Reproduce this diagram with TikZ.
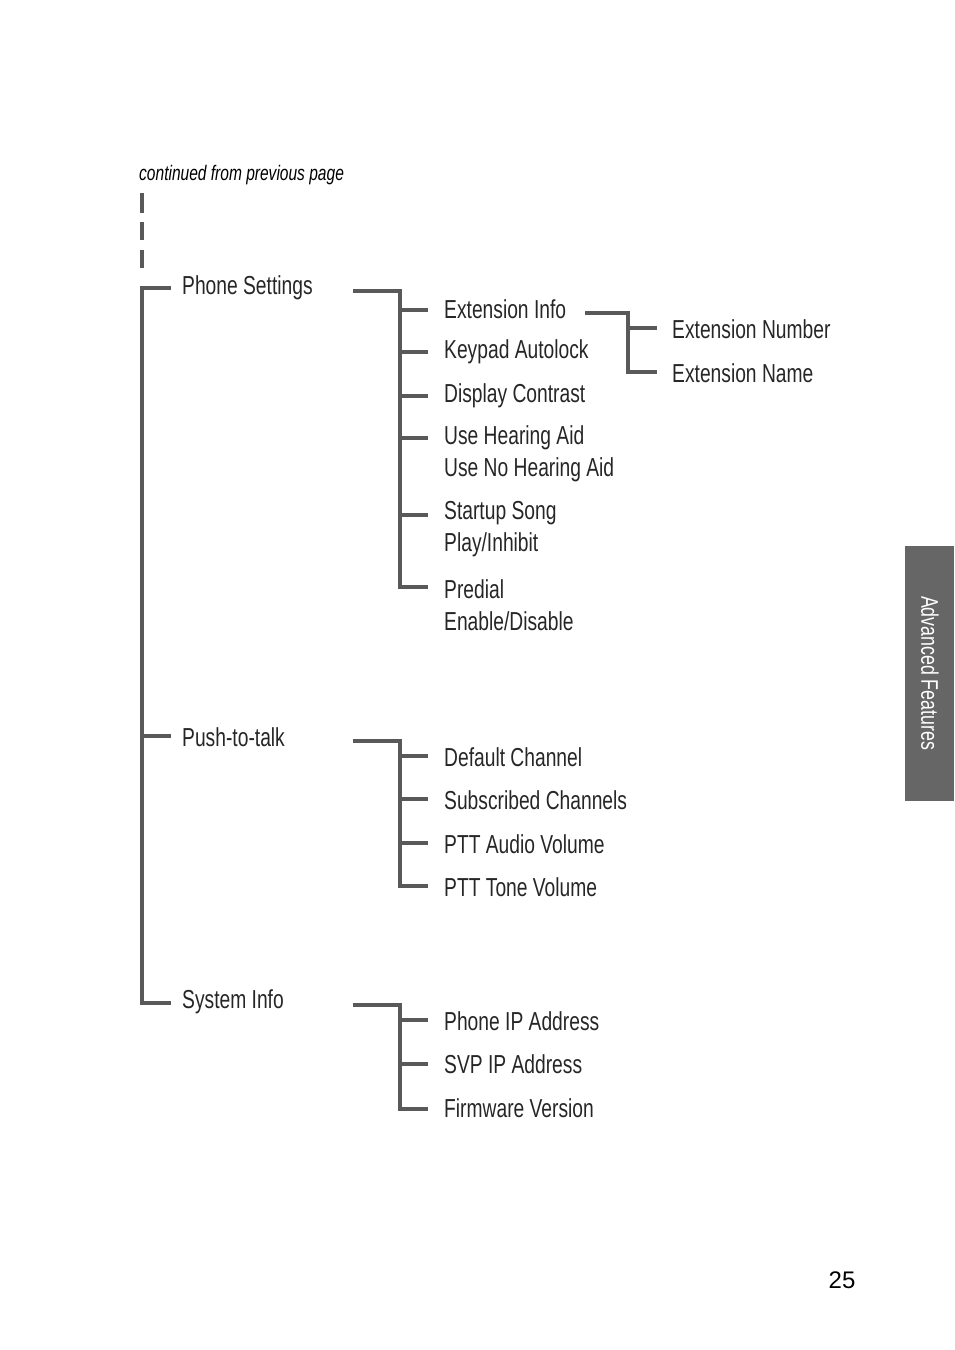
\documentclass[tikz,border=0pt]{standalone}
\usepackage{fontspec}
\setmainfont{Liberation Sans}[FakeStretch=0.74]
\newfontfamily\numfont{Liberation Sans}
\begin{document}
\begin{tikzpicture}[x=1pt,y=-1pt,
  ln/.style={draw=black!65,line width=3.6pt},
  lbl/.style={anchor=west,inner sep=0pt,font=\fontsize{26}{32}\selectfont,align=left,text=black!85}]
\useasboundingbox (0,0) rectangle (954,1350);
\node[anchor=west,inner sep=0pt,font=\fontsize{21}{24}\selectfont\itshape] (cont) at (139,175) {continued from previous page};
\foreach \a/\b in {193/213,222/240,250/268}{\draw[ln,line width=4pt] (142,\a) -- (142,\b);}
% level 1
\node[lbl] (ps) at (182,288) {Phone Settings};
\node[lbl] (pt) at (182,737) {Push-to-talk};
\node[lbl] (si) at (182,1002) {System Info};
\draw[ln] (171,288) -- (142,288) -- (142,1003) -- (171,1003);
\draw[ln] (142,736) -- (171,736);
% Phone settings children
\node[lbl] (c1) at (444,309) {Extension Info};
\node[lbl] (c2) at (444,352) {Keypad Autolock};
\node[lbl] (c3) at (444,396) {Display Contrast};
\node[lbl] (c4) at (444,454) {Use Hearing Aid\\Use No Hearing Aid};
\node[lbl] (c5) at (444,529) {Startup Song\\Play/Inhibit};
\node[lbl] (c6) at (444,605) {Predial\\Enable/Disable};
\draw[ln] (353,291) -- (400,291) -- (400,587) -- (428,587);
\foreach \y in {310,352,396,438,515}{\draw[ln] (400,\y) -- (428,\y);}
% extension info
\node[lbl] (e1) at (672,329) {Extension Number};
\node[lbl] (e2) at (672,373) {Extension Name};
\draw[ln] (585,313) -- (628,313) -- (628,372) -- (657,372);
\draw[ln] (628,328) -- (657,328);
% push-to-talk
\node[lbl] (p1) at (444,757) {Default Channel};
\node[lbl] (p2) at (444,800) {Subscribed Channels};
\node[lbl] (p3) at (444,844) {PTT Audio Volume};
\node[lbl] (p4) at (444,887) {PTT Tone Volume};
\draw[ln] (353,741) -- (400,741) -- (400,886) -- (428,886);
\foreach \y in {756,799,843}{\draw[ln] (400,\y) -- (428,\y);}
% system info
\node[lbl] (s1) at (444,1021) {Phone IP Address};
\node[lbl] (s2) at (444,1064) {SVP IP Address};
\node[lbl] (s3) at (444,1108) {Firmware Version};
\draw[ln] (353,1005) -- (400,1005) -- (400,1109) -- (428,1109);
\foreach \y in {1020,1064}{\draw[ln] (400,\y) -- (428,\y);}
% tab
\fill[black!60] (905,546) rectangle (954,801);
\node[rotate=-90,text=white,inner sep=0pt,font=\fontsize{24}{28}\selectfont] (tab) at (930,673) {Advanced Features};
\node[inner sep=0pt,font=\numfont\fontsize{24}{28}\selectfont] (pg) at (842,1280) {25};
\end{tikzpicture}
\end{document}
